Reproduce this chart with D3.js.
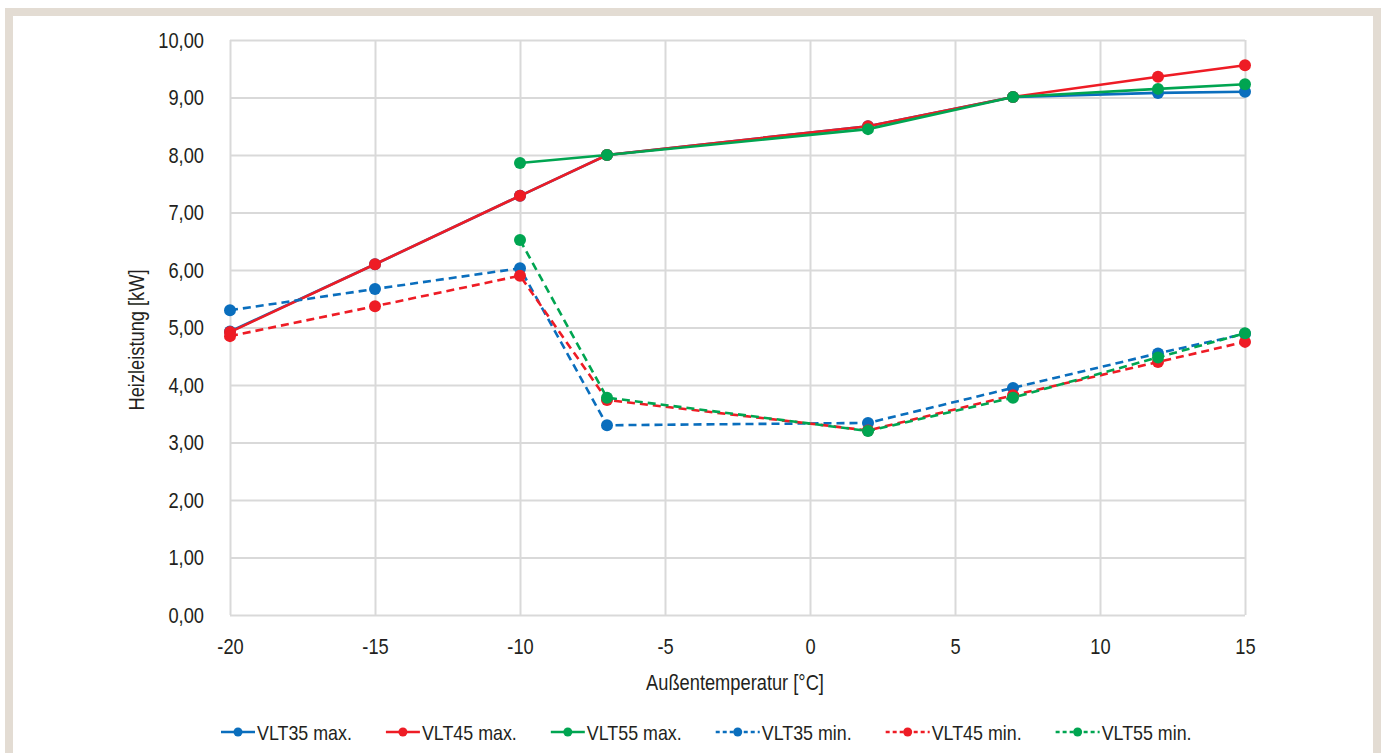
<!DOCTYPE html>
<html><head><meta charset="utf-8">
<script src="https://cdn.jsdelivr.net/npm/d3@7"></script>
<style>
html,body{margin:0;padding:0;background:#fff;}
svg text{font-family:"Liberation Sans",Arial,sans-serif;fill:#231f20;}
</style></head>
<body>
<svg id="chart" width="1385" height="753"></svg>
<script>
const xValues = [-20, -15, -10, -7, 2, 7, 12, 15];
const xTicks = [-20, -15, -10, -5, 0, 5, 10, 15];
const yTicks = [0,1,2,3,4,5,6,7,8,9,10];
const vlt35max = [4.93, 6.10, 7.29, 8.00, 8.50, 9.01, 9.08, 9.10];
const vlt45max = [4.92, 6.10, 7.29, 8.00, 8.50, 9.01, 9.36, 9.56];
const vlt55max = [null, null, 7.86, 8.00, 8.45, 9.01, 9.15, 9.23];
const vlt35min = [5.30, 5.67, 6.03, 3.30, 3.34, 3.95, 4.55, 4.89];
const vlt45min = [4.85, 5.37, 5.90, 3.74, 3.21, 3.82, 4.40, 4.75];
const vlt55min = [null, null, 6.52, 3.78, 3.20, 3.78, 4.48, 4.90];
const seriesNames = ["VLT35 max.","VLT45 max.","VLT55 max.","VLT35 min.","VLT45 min.","VLT55 min."];
const seriesData = [vlt35max, vlt45max, vlt55max, vlt35min, vlt45min, vlt55min];
const seriesColors = ["#0a6ebd","#ee1c25","#00a551","#0a6ebd","#ee1c25","#00a551"];
const seriesDashed = [false,false,false,true,true,true];
const xTitle = "Außentemperatur [°C]";
const yTitle = "Heizleistung [kW]";

// condense text horizontally (the reference uses a condensed face)
function narrow(sel, f){
  sel.each(function(){
    const w = this.getComputedTextLength();
    this.setAttribute("textLength", (w*f).toFixed(2));
    this.setAttribute("lengthAdjust","spacingAndGlyphs");
  });
}

const svg = d3.select("#chart");
svg.append("rect").attr("x",9).attr("y",12).attr("width",1368).attr("height",760)
  .attr("fill","none").attr("stroke","#e3dcd3").attr("stroke-width",8);

const pL=230, pR=1245, pT=40, pB=615;
const x = d3.scaleLinear().domain([-20,15]).range([pL,pR]);
const y = d3.scaleLinear().domain([0,10]).range([pB,pT]);
const fmt = d => d3.format(".2f")(d).replace(".", ",");

const gy = svg.append("g").attr("transform",`translate(${pL},0)`)
  .call(d3.axisLeft(y).tickValues(yTicks).tickFormat(fmt).tickSize(-(pR-pL)).tickPadding(26));
gy.select(".domain").remove();
gy.selectAll("line").attr("stroke","#d9d9d9").attr("stroke-width",2);
gy.selectAll("text").style("font-size","22px").attr("fill","#231f20");

const gx = svg.append("g").attr("transform",`translate(0,${pB})`)
  .call(d3.axisBottom(x).tickValues(xTicks).tickFormat(d=>String(d)).tickSize(-(pB-pT)).tickPadding(23));
gx.select(".domain").remove();
gx.selectAll("line").attr("stroke","#d9d9d9").attr("stroke-width",2);
gx.selectAll("text").style("font-size","22px").attr("fill","#231f20");

svg.append("text").attr("class","ttl").attr("x",735).attr("y",690).attr("text-anchor","middle")
  .style("font-size","22px").text(xTitle);
svg.append("text").attr("class","ttl").attr("transform","translate(144,340) rotate(-90)").attr("text-anchor","middle")
  .style("font-size","22px").text(yTitle);

const line = d3.line().defined(d=>d.v!=null).x(d=>x(d.x)).y(d=>y(d.v));
seriesData.forEach((arr,i)=>{
  const pts = arr.map((v,j)=>({x:xValues[j],v}));
  const g = svg.append("g");
  g.append("path").datum(pts).attr("d",line).attr("fill","none")
    .attr("stroke",seriesColors[i]).attr("stroke-width",2.6)
    .attr("stroke-dasharray",seriesDashed[i]?"8,5":null);
  g.selectAll("circle").data(pts.filter(d=>d.v!=null)).join("circle")
    .attr("cx",d=>x(d.x)).attr("cy",d=>y(d.v)).attr("r",6).attr("fill",seriesColors[i]);
});

narrow(svg.selectAll(".tick text"), 0.83);
narrow(svg.selectAll("text.ttl"), 0.83);

// legend
const lg = svg.append("g");
let cx = 0;
const spacing = 34;
seriesNames.forEach((n,i)=>{
  const it = lg.append("g");
  const symW = seriesDashed[i]?44:34;
  it.append("line").attr("x1",0).attr("x2",symW).attr("y1",0).attr("y2",0)
    .attr("stroke",seriesColors[i]).attr("stroke-width",2.6)
    .attr("stroke-dasharray",seriesDashed[i]?"4,3":null);
  it.append("circle").attr("cx",symW/2).attr("cy",0).attr("r",4.5).attr("fill",seriesColors[i]);
  const t = it.append("text").attr("x",symW+2).attr("y",8).style("font-size","21px").text(n);
  narrow(t, 0.85);
  const w = symW+2+(+t.attr("textLength"));
  it.attr("transform",`translate(${cx},0)`);
  cx += w + spacing;
});
lg.attr("transform",`translate(221,732)`);
</script>
</body></html>
